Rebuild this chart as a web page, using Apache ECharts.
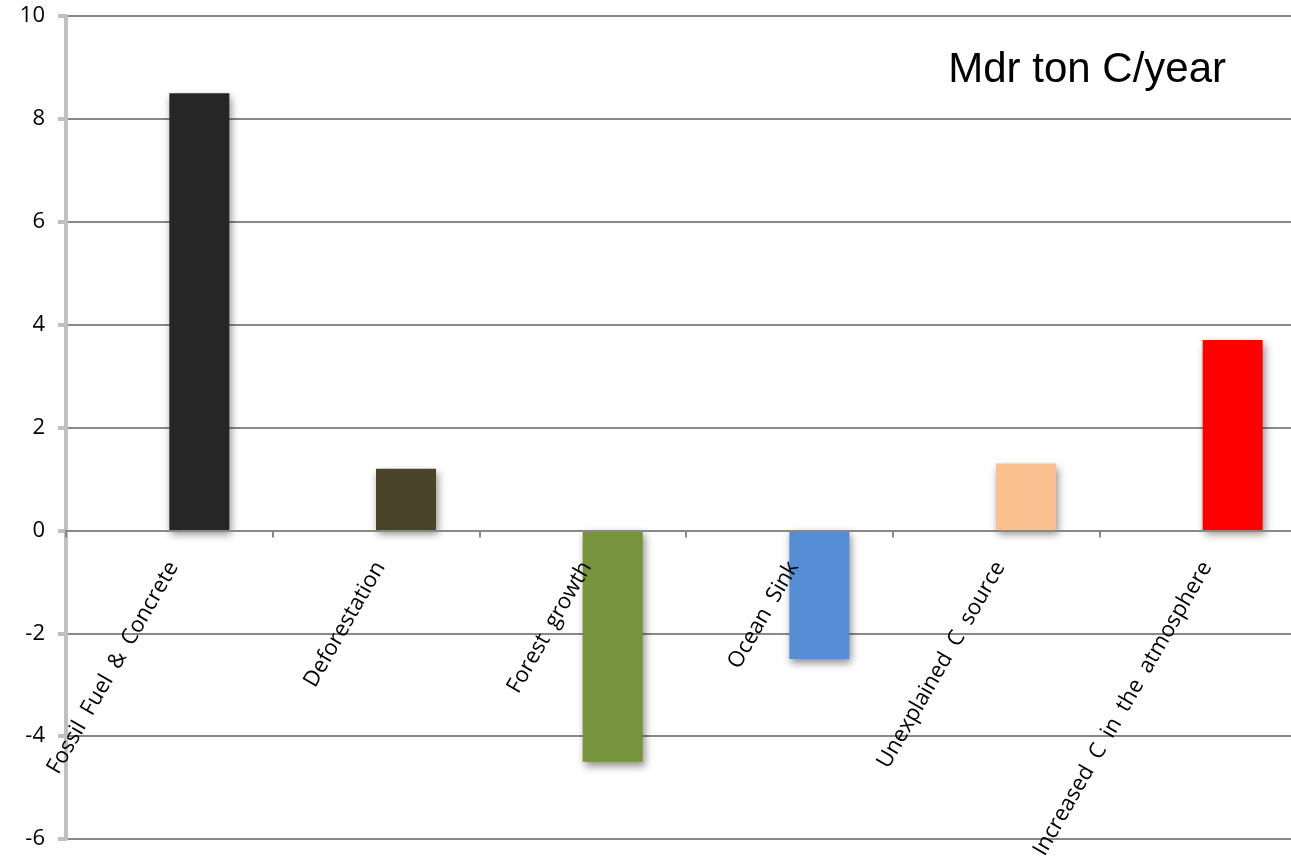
<!DOCTYPE html>
<html>
<head>
<meta charset="utf-8">
<script src="https://cdn.jsdelivr.net/npm/echarts@6/dist/echarts.min.js"></script>
<style>
    html, body { margin: 0; padding: 0; background: #fff; }
    #chart_main { width: 1291px; height: 865px; }
</style>
</head>
<body>
<div id="chart_main"></div>
<script>
// categories and values (wide spaces as in the source labels)
let categories = ['Fossil\u2002Fuel\u2002&\u2002Concrete\u2002', 'Deforestation\u2002', 'Forest\u2002growth\u2002', 'Ocean\u2002Sink\u2002', 'Unexplained\u2002C\u2002source\u2002', 'Increased\u2002C\u2002in\u2002the\u2002atmosphere\u2002'];
let values = [8.5, 1.2, -4.5, -2.5, 1.3, 3.7];
let barColors = ['#262626', '#4a442a', '#77933c', '#558ed5', '#fac090', '#ff0000'];
let yTicks = [-6, -4, -2, 0, 2, 4, 6, 8, 10];

let myChart = echarts.init(document.getElementById('chart_main'));

function setChart(myChart) {
    let bar_data = values.map(function (v, i) {
        return {value: v, itemStyle: {color: barColors[i]}};
    });
    // empty series on the left so the real bars sit right of the category centre
    let spacer = categories.map(function () { return '-'; });
    let gridTop = 16, gridBottom = 26, chartH = 865;
    let yMin = yTicks[0], yMax = yTicks[yTicks.length - 1];
    let plotH = chartH - gridTop - gridBottom;
    // move the category axis (line, ticks, labels) up to the zero line
    let zeroOffset = -plotH * (0 - yMin) / (yMax - yMin);
    let option = {
        animation: false,
        title: {
            text: 'Mdr ton C/year',
            right: 60,
            top: 44,
            textStyle: {fontFamily: 'Liberation Sans', fontSize: 42, fontWeight: 'normal', color: '#000'}
        },
        grid: {left: 66, right: -15, top: gridTop, bottom: gridBottom, containLabel: false, outerBoundsMode: 'none'},
        xAxis: {
            type: 'category',
            data: categories,
            offset: zeroOffset,
            z: 5, // labels are drawn over the bars
            axisLine: {onZero: false, lineStyle: {color: '#888', width: 2}},
            axisTick: {show: true, length: 7, lineStyle: {color: '#888', width: 2}},
            axisLabel: {
                rotate: 60, margin: 18, interval: 0, hideOverlap: false,
                verticalAlign: 'top',
                fontFamily: 'Open Sans', fontSize: 22, color: '#000'
            },
            splitLine: {show: false}
        },
        yAxis: {
            type: 'value',
            min: yMin,
            max: yMax,
            interval: 2,
            axisLine: {show: true, lineStyle: {color: '#c0c0c0', width: 4}},
            axisTick: {show: true, length: 8, lineStyle: {color: '#c0c0c0', width: 4}},
            axisLabel: {fontFamily: 'Open Sans', fontSize: 22, color: '#000', margin: 21},
            splitLine: {lineStyle: {color: '#888', width: 2}}
        },
        series: [{
            type: 'bar',
            data: spacer,
            barWidth: 60,
            barGap: '0%'
        }, {
            type: 'bar',
            data: bar_data,
            barWidth: 60,
            barGap: '0%',
            itemStyle: {
                shadowColor: 'rgba(0,0,0,0.45)',
                shadowBlur: 8,
                shadowOffsetX: 2,
                shadowOffsetY: 4
            }
        }]
    };
    myChart.setOption(option);
}

setChart(myChart);
</script>
</body>
</html>
